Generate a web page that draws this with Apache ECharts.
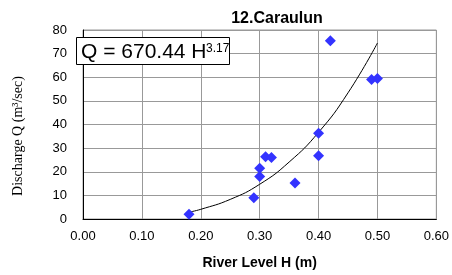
<!DOCTYPE html>
<html>
<head>
<meta charset="utf-8">
<script src="https://cdn.jsdelivr.net/npm/echarts@6/dist/echarts.min.js"></script>
<style>
  html, body { margin: 0; padding: 0; background: #fff; }
  #chart { width: 452px; height: 275px; }
</style>
</head>
<body>
<div id="chart"></div>
<script>
  // observed points (river level H, discharge Q)
  const levelH = [0.18, 0.29, 0.30, 0.30, 0.31, 0.32, 0.36, 0.40, 0.40, 0.42, 0.49, 0.50]
  const dischargeQ = [2, 9, 18, 21.5, 26.3, 26, 15.2, 36.3, 26.8, 75.5, 59, 59.5]

  // fitted curve
  const curveH = [0.18, 0.20, 0.25, 0.30, 0.35, 0.40, 0.45, 0.50]
  const curveQ = [2.9, 4.1, 8.3, 14.7, 24.1, 36.7, 53.4, 74.5]

  const xTicks = [0, 0.1, 0.2, 0.3, 0.4, 0.5, 0.6]
  const yTicks = [0, 10, 20, 30, 40, 50, 60, 70, 80]

  const chart = echarts.init(document.getElementById('chart'), null, { renderer: 'canvas' })

  const option = {
    animation: false,
    title: {
      text: '12.Caraulun',
      left: 272,
      top: 6,
      textAlign: 'center',
      textStyle: { fontFamily: 'Liberation Sans', fontSize: 16, fontWeight: 'bold', color: '#000' },
    },
    grid: {
      left: 83, right: 14, top: 30, bottom: 56,
      show: true, borderColor: '#999', borderWidth: 1,
    },
    xAxis: {
      type: 'value',
      min: xTicks[0], max: xTicks[xTicks.length - 1], interval: 0.1,
      name: 'River Level H (m)',
      nameLocation: 'middle', nameGap: 37,
      nameTextStyle: { fontFamily: 'Liberation Sans', fontSize: 14, fontWeight: 'bold', color: '#000' },
      axisLine: { lineStyle: { color: '#000', width: 1 } },
      axisTick: { show: false },
      axisLabel: {
        margin: 11, color: '#000', fontFamily: 'Liberation Sans', fontSize: 13,
        formatter: (v) => v.toFixed(2),
      },
      splitLine: { lineStyle: { color: '#999', width: 1 } },
    },
    yAxis: {
      type: 'value',
      min: yTicks[0], max: yTicks[yTicks.length - 1], interval: 10,
      axisLine: { show: true, lineStyle: { color: '#000', width: 1 } },
      axisTick: { show: false },
      axisLabel: { margin: 16, color: '#000', fontFamily: 'Liberation Sans', fontSize: 13 },
      splitLine: { lineStyle: { color: '#999', width: 1 } },
    },
    series: [
      {
        type: 'line',
        data: curveH.map((h, i) => [h, curveQ[i]]),
        smooth: true,
        showSymbol: false,
        lineStyle: { color: '#000', width: 1 },
        z: 2,
      },
      {
        type: 'scatter',
        data: levelH.map((h, i) => [h, dischargeQ[i]]),
        symbol: 'diamond',
        symbolSize: 11,
        itemStyle: { color: '#3333ff', opacity: 1 },
        z: 3,
      },
    ],
    graphic: [
      {
        type: 'text',
        x: 18, y: 136,
        rotation: Math.PI / 2,
        style: {
          text: 'Discharge Q (m³/sec)',
          fontFamily: 'Liberation Serif', fontSize: 14, fill: '#000',
          align: 'center', verticalAlign: 'middle',
        },
      },
      {
        type: 'rect',
        shape: { x: 76.5, y: 37.5, width: 153, height: 27 },
        style: { fill: '#fff', stroke: '#000', lineWidth: 1 },
        z: 10,
      },
      {
        type: 'text',
        x: 81, y: 52,
        style: {
          text: 'Q = 670.44 H',
          fontFamily: 'Liberation Sans', fontSize: 21, fill: '#000',
          verticalAlign: 'middle',
        },
        z: 11,
      },
      {
        type: 'text',
        x: 206, y: 49,
        style: {
          text: '3.17',
          fontFamily: 'Liberation Sans', fontSize: 12, fill: '#000',
          verticalAlign: 'middle',
        },
        z: 11,
      },
    ],
  }

  chart.setOption(option)
</script>
</body>
</html>
